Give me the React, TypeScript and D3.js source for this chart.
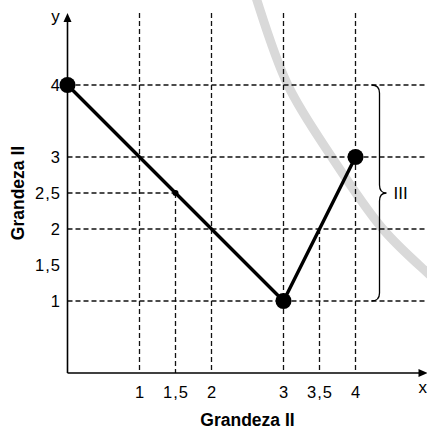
import * as d3 from "d3";

// values
const pathPoints = [
  { x: 0, y: 4 },
  { x: 3, y: 1 },
  { x: 4, y: 3 },
];
const smallPoint = { x: 1.5, y: 2.5 };
const gridX = [1, 2, 3, 4];
const gridY = [1, 2, 3, 4];
const guides = [
  { x: 1.5, y: 2.5, horizontal: true },
  { x: 3.5, y: 2, horizontal: false },
];
const xTicks = [1, 1.5, 2, 3, 3.5, 4];
const yTicks = [1, 1.5, 2, 2.5, 3, 4];
const braceRange = [1, 4];
const braceLabel = "III";
// light grey arc in the background
const arcPoints = [
  { x: 2.55, y: 5.46 },
  { x: 2.63, y: 5.18 },
  { x: 3.06, y: 4.0 },
  { x: 3.67, y: 3.0 },
  { x: 4.38, y: 2.0 },
  { x: 4.99, y: 1.4 },
  { x: 5.2, y: 1.22 },
];

const W = 427;
const H = 430;
const font = "'Liberation Sans', Arial, sans-serif";

export default function App() {
  const x = d3.scaleLinear().domain([0, 5]).range([67.5, 427.5]);
  const y = d3.scaleLinear().domain([0, 5]).range([373, 13]);

  const line = d3
    .line<{ x: number; y: number }>()
    .x((d) => x(d.x))
    .y((d) => y(d.y));
  const arc = d3
    .line<{ x: number; y: number }>()
    .x((d) => x(d.x))
    .y((d) => y(d.y))
    .curve(d3.curveCatmullRom);

  const fmt = (v: number) => String(v).replace(".", ",");

  // brace on the right
  const bx = x(4) + 24;
  const bTop = y(braceRange[1]);
  const bBot = y(braceRange[0]);
  const bMid = (bTop + bBot) / 2;
  const brace = `M ${bx - 8} ${bTop} Q ${bx} ${bTop} ${bx} ${bTop + 8} L ${bx} ${bMid - 8} Q ${bx} ${bMid} ${bx + 7} ${bMid} Q ${bx} ${bMid} ${bx} ${bMid + 8} L ${bx} ${bBot - 8} Q ${bx} ${bBot} ${bx - 8} ${bBot}`;

  const dash = "5,3";

  return (
    <svg
      width={W}
      height={H}
      style={{ position: "absolute", left: 0, top: 0, background: "#fff" }}
      fontFamily={font}
    >
      {/* background arc */}
      <path d={arc(arcPoints) ?? ""} fill="none" stroke="#d9d9d9" strokeWidth={9} />

      {/* grid */}
      <g stroke="#111" strokeWidth={1.3} strokeDasharray={dash}>
        {gridX.map((v) => (
          <line key={"gx" + v} x1={x(v)} x2={x(v)} y1={y(5)} y2={y(0)} />
        ))}
        {gridY.map((v) => (
          <line key={"gy" + v} x1={x(0)} x2={x(5)} y1={y(v)} y2={y(v)} />
        ))}
        {guides.map((g, i) => (
          <g key={"g" + i}>
            <line x1={x(g.x)} x2={x(g.x)} y1={y(g.y)} y2={y(0)} />
            {g.horizontal && <line x1={x(0)} x2={x(g.x)} y1={y(g.y)} y2={y(g.y)} />}
          </g>
        ))}
      </g>

      {/* axes */}
      <line x1={x(0)} x2={x(0)} y1={y(0)} y2={y(5) + 6} stroke="#000" strokeWidth={1.6} />
      <line x1={x(0)} x2={x(5) - 6} y1={y(0)} y2={y(0)} stroke="#000" strokeWidth={1.6} />
      <path
        d={`M ${x(0)} ${y(5)} L ${x(0) - 4} ${y(5) + 9} L ${x(0) + 4} ${y(5) + 9} Z`}
        fill="#000"
      />
      <path
        d={`M ${x(5)} ${y(0)} L ${x(5) - 9} ${y(0) - 4} L ${x(5) - 9} ${y(0) + 4} Z`}
        fill="#000"
      />
      <text x={x(0) - 12} y={22} fontSize={17} textAnchor="middle">
        y
      </text>
      <text x={W} y={393} fontSize={17} textAnchor="end">
        x
      </text>

      {/* tick labels */}
      {xTicks.map((v) => (
        <text
          key={"xt" + v}
          x={x(v) + 0.5}
          y={398}
          fontSize={16.5}
          letterSpacing={1}
          textAnchor="middle"
        >
          {fmt(v)}
        </text>
      ))}
      {yTicks.map((v) => (
        <text
          key={"yt" + v}
          x={61}
          y={y(v)}
          dy="0.36em"
          fontSize={16.5}
          letterSpacing={1}
          textAnchor="end"
        >
          {fmt(v)}
        </text>
      ))}

      {/* titles */}
      <text x={247.5} y={426} fontSize={17.5} fontWeight="bold" textAnchor="middle">
        Grandeza II
      </text>
      <text
        transform={`translate(24,${y(2.5)}) rotate(-90)`}
        fontSize={17.5}
        fontWeight="bold"
        textAnchor="middle"
      >
        Grandeza II
      </text>

      {/* data line and markers */}
      <path
        d={line(pathPoints) ?? ""}
        fill="none"
        stroke="#000"
        strokeWidth={3.4}
        strokeLinejoin="round"
      />
      {pathPoints.map((p, i) => (
        <circle key={"p" + i} cx={x(p.x)} cy={y(p.y)} r={8} fill="#000" />
      ))}
      <circle cx={x(smallPoint.x)} cy={y(smallPoint.y)} r={3} fill="#000" />

      {/* brace */}
      <path d={brace} fill="none" stroke="#000" strokeWidth={1.3} />
      <text x={bx + 14} y={bMid} dy="0.36em" fontSize={17}>
        {braceLabel}
      </text>
    </svg>
  );
}
